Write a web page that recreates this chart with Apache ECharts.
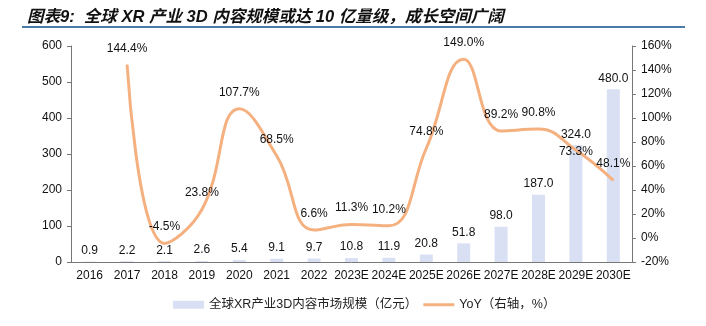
<!DOCTYPE html>
<html><head><meta charset="utf-8">
<script src="https://cdn.jsdelivr.net/npm/echarts@6/dist/echarts.min.js"></script>
<style>html,body{margin:0;padding:0;background:#fff}#c{width:706px;height:326px}</style>
</head><body><div id="c"></div>
<script>
const titleText = '图表9:  全球 XR 产业 3D 内容规模或达 10 亿量级，成长空间广阔';
const categories = ['2016','2017','2018','2019','2020','2021','2022','2023E','2024E','2025E','2026E','2027E','2028E','2029E','2030E'];
const marketSize = [0.9,2.2,2.1,2.6,5.4,9.1,9.7,10.8,11.9,20.8,51.8,98.0,187.0,324.0,480.0];
const yoy = [null,144.4,-4.5,23.8,107.7,68.5,6.6,11.3,10.2,74.8,149.0,89.2,90.8,73.3,48.1];
const barName = '全球XR产业3D内容市场规模（亿元）';
const lineName = 'YoY（右轴，%）';

const FONT = '"Liberation Sans", Arial, "Noto Sans CJK SC", sans-serif';
const LINE_COLOR = '#f5b080';
const chart = echarts.init(document.getElementById('c'));
const yoyData = yoy.map((v, i) => {
  if (v === null) return null;
  if (i === 13) return { value: v, label: { position: 'inside', offset: [0, 2] } };
  return v;
});
chart.setOption({
  animation: false,
  textStyle: { fontFamily: FONT },
  title: {
    text: titleText, left: 22, top: 4,
    textStyle: { fontFamily: FONT, fontStyle: 'italic', fontWeight: 'bold', fontSize: 16.5, color: '#111' }
  },
  graphic: [{ type: 'line', shape: { x1: 22, y1: 27, x2: 685, y2: 27 }, style: { stroke: '#4a7aa6', lineWidth: 2 } }],
  grid: { left: 71, right: 74, top: 46, bottom: 64 },
  legend: {
    bottom: 10, left: 168, itemGap: 6, itemWidth: 31, itemHeight: 8,
    textStyle: { fontSize: 12.5, color: '#222', fontFamily: FONT },
    data: [
      { name: barName, icon: 'rect' },
      { name: lineName, icon: 'path://M0,0 L31,0 L31,3 L0,3 Z', itemStyle: { color: LINE_COLOR } }
    ]
  },
  xAxis: {
    type: 'category', data: categories,
    axisLine: { lineStyle: { color: '#777', width: 1 } },
    axisTick: { show: false },
    axisLabel: { color: '#111', fontSize: 12, margin: 8, interval: 0 }
  },
  yAxis: [
    { type: 'value', min: 0, max: 600, interval: 100, splitLine: { show: false },
      axisLine: { show: true, lineStyle: { color: '#777' } },
      axisTick: { show: true, inside: false, length: 4, lineStyle: { color: '#777' } },
      axisLabel: { color: '#111', fontSize: 12, margin: 9 } },
    { type: 'value', min: -20, max: 160, interval: 20, splitLine: { show: false },
      axisLine: { show: true, lineStyle: { color: '#777' } },
      axisTick: { show: true, inside: false, length: 4, lineStyle: { color: '#777' } },
      axisLabel: { color: '#111', fontSize: 12, margin: 9, formatter: '{value}%' } }
  ],
  series: [
    { name: barName, type: 'bar', data: marketSize, barWidth: 13,
      itemStyle: { color: '#d9e0f3' },
      label: { show: true, position: 'top', distance: 5, fontSize: 12, color: '#111', formatter: p => p.value.toFixed(1) } },
    { name: lineName, type: 'line', yAxisIndex: 1, data: yoyData, smooth: 0.45,
      connectNulls: false, symbol: 'circle', symbolSize: 1, showSymbol: true,
      itemStyle: { color: LINE_COLOR },
      lineStyle: { color: LINE_COLOR, width: 3 },
      label: { show: true, position: 'top', distance: 10, fontSize: 12, color: '#111', formatter: p => p.value.toFixed(1) + '%' },
      z: 3 }
  ]
});
</script></body></html>
